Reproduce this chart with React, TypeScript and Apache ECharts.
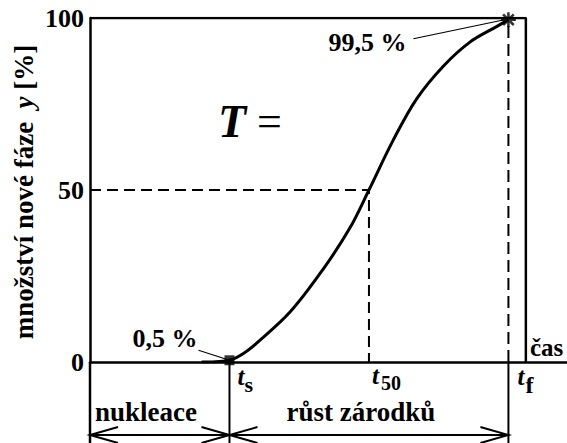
import React, { useEffect, useRef } from 'react';
import * as echarts from 'echarts';

// Amount of the new phase y [%] over time (time in units of t_s)
const yTicks = [0, 50, 100];
const timeMax = 3.42;
const frameRight = 3.125;
const tS = 1;
const t50 = 2;
const tF = 3;
const halfAmount = 50;
const startAmount = 0.5;
const endAmount = 99.5;
const startLabel = '0,5 %';
const endLabel = '99,5 %';

const curveTime = [0.8, 0.9, 1.0, 1.1, 1.195, 1.434, 1.672, 1.864, 2.0, 2.174, 2.342, 2.533, 2.724, 2.915, 3.0];
const curveAmount = [0, 0.1, 0.5, 2.5, 5.5, 14.5, 27, 39, 50, 64.5, 76.5, 86, 93, 97.5, 99.5];

const SERIF = '"Liberation Serif", "Times New Roman", serif';
const INK = '#000';

const ASTERISK =
  'path://M-1.2 -7 L1.2 -7 L1.2 7 L-1.2 7 Z M-7 -1.2 L7 -1.2 L7 1.2 L-7 1.2 Z ' +
  'M-5.8 -4.1 L-4.1 -5.8 L5.8 4.1 L4.1 5.8 Z M4.1 -5.8 L5.8 -4.1 L-4.1 5.8 L-5.8 4.1 Z';

// place a text so that its alphabetic baseline sits at y
const textAt = (text: string, x: number, baseline: number, font: string, size: number, align = 'left') => ({
  type: 'text',
  x,
  y: baseline - 0.34 * size,
  style: { text, fill: INK, font: `${font} ${size}px ${SERIF}`, align, verticalAlign: 'middle' },
  z: 10,
});

const seg = (x1: number, y1: number, x2: number, y2: number, w = 2) => ({
  type: 'line',
  shape: { x1, y1, x2, y2 },
  style: { stroke: INK, lineWidth: w },
  z: 10,
});

const arrowHead = (x: number, y: number, dir: number) => ({
  type: 'polyline',
  shape: { points: [[x + dir * 28, y - 8], [x, y], [x + dir * 28, y + 8]] },
  style: { stroke: INK, lineWidth: 2, fill: 'none' },
  z: 10,
});

export default function App() {
  const ref = useRef<HTMLDivElement>(null);

  useEffect(() => {
    if (!ref.current) return;
    const chart = echarts.init(ref.current, undefined, { renderer: 'svg' });

    chart.setOption({
      animation: false,
      backgroundColor: '#fff',
      grid: { left: 90, top: 18, right: 0, bottom: 81 },
      xAxis: {
        type: 'value',
        min: 0,
        max: timeMax,
        axisLine: { show: true, lineStyle: { color: INK, width: 2.5 } },
        axisTick: { show: false },
        axisLabel: { show: false },
        splitLine: { show: false },
      },
      yAxis: {
        type: 'value',
        min: 0,
        max: 100,
        interval: 50,
        axisLine: { show: true, lineStyle: { color: INK, width: 2.5 } },
        axisTick: { show: false },
        splitLine: { show: false },
        axisLabel: {
          margin: 6,
          color: INK,
          fontFamily: SERIF,
          fontWeight: 'bold',
          fontSize: 26,
          formatter: (v: number) => (yTicks.includes(v) ? String(v) : ''),
        },
      },
      series: [
        {
          name: 'frame',
          type: 'line',
          data: [[0, 100], [frameRight, 100], [frameRight, 0]],
          symbol: 'none',
          lineStyle: { color: INK, width: 2.5 },
          z: 2,
        },
        {
          name: 'half',
          type: 'line',
          data: [[0, halfAmount], [t50, halfAmount], [t50, 0]],
          symbol: 'none',
          lineStyle: { color: INK, width: 2, type: [11, 6] },
          z: 2,
        },
        {
          name: 'finish',
          type: 'line',
          data: [[tF, 0], [tF, endAmount]],
          symbol: 'none',
          lineStyle: { color: INK, width: 2, type: [12, 6] },
          z: 2,
        },
        {
          name: 'y',
          type: 'line',
          data: curveTime.map((t, i) => [t, curveAmount[i]]),
          smooth: 0.35,
          symbol: 'none',
          lineStyle: { color: INK, width: 3 },
          z: 3,
        },
        {
          name: 'start',
          type: 'scatter',
          data: [[tS, startAmount]],
          symbol: 'rect',
          symbolSize: 10,
          itemStyle: { color: INK },
          z: 4,
        },
        {
          name: 'end',
          type: 'scatter',
          data: [[tF, endAmount]],
          symbol: ASTERISK,
          symbolSize: 15,
          itemStyle: { color: INK },
          z: 4,
        },
      ],
    });

    const px = (x: number, y: number) => chart.convertToPixel({ gridIndex: 0 }, [x, y]) as number[];
    const [x0, yBase] = px(0, 0);
    const [xs, ys] = px(tS, startAmount);
    const [xh] = px(t50, 0);
    const [xf, yf] = px(tF, endAmount);
    const [, yTop] = px(0, 100);
    const bottom = 443;
    const arrowY = yBase + 73;

    chart.setOption({
      graphic: [
        // vertical lines continuing below the time axis
        seg(x0, yBase, x0, bottom, 2.5),
        seg(xs, yBase, xs, bottom, 2),
        seg(xf, yBase, xf, bottom, 2),
        // nucleation / growth arrows
        seg(x0, arrowY, xf, arrowY, 2),
        arrowHead(x0, arrowY, 1),
        arrowHead(xs, arrowY, -1),
        arrowHead(xs, arrowY, 1),
        arrowHead(xf, arrowY, -1),
        textAt('nukleace', x0 + 5, arrowY - 14, 'bold', 27),
        textAt('růst zárodků', (xs + xf) / 2 - 8, arrowY - 14, 'bold', 27, 'center'),
        // time marks
        textAt('t', xs + 8, yBase + 23, 'italic bold', 25),
        textAt('s', xs + 15, yBase + 30, 'bold', 22),
        textAt('t', xh + 3, yBase + 22, 'italic bold', 25),
        textAt('50', xh + 12, yBase + 28, 'bold', 20),
        textAt('t', xf + 9, yBase + 23, 'italic bold', 25),
        textAt('f', xf + 17, yBase + 31, 'bold', 24),
        textAt('čas', 530, yBase - 6, 'bold', 25),
        // point annotations
        textAt(startLabel, xs - 97, ys - 13, 'bold', 26),
        seg(xs - 31, ys - 10, xs - 3, ys - 1, 1.2),
        textAt(endLabel, xf - 180, yf + 32, 'bold', 26),
        seg(xf - 95, yf + 19, xf - 4, yf, 1.2),
        {
          type: 'text',
          x: 218,
          y: yTop + 119 - 0.34 * 46,
          style: {
            text: '{t|T}{e| =}',
            fill: INK,
            verticalAlign: 'middle',
            rich: {
              t: { font: `italic bold 46px ${SERIF}`, fill: INK },
              e: { font: `44px ${SERIF}`, fill: INK },
            },
          },
          z: 10,
        },
        // y axis title
        {
          type: 'text',
          x: 24,
          y: 192,
          rotation: Math.PI / 2,
          style: {
            text: '{b|množství nové fáze  }{i|y}{b| [%]}',
            align: 'center',
            verticalAlign: 'middle',
            fill: INK,
            rich: {
              b: { font: `bold 27px ${SERIF}`, fill: INK },
              i: { font: `italic bold 27px ${SERIF}`, fill: INK },
            },
          },
          z: 10,
        },
      ],
    });

    return () => chart.dispose();
  }, []);

  return <div ref={ref} style={{ position: 'fixed', left: 0, top: 0, width: 567, height: 443 }} />;
}
